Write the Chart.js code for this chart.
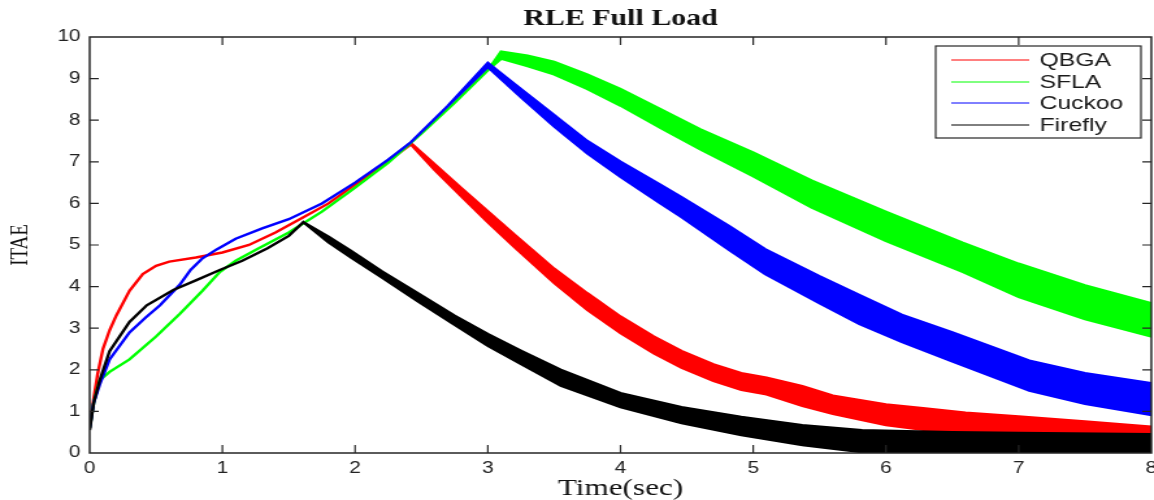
<!DOCTYPE html>
<html>
<head>
<meta charset="utf-8">
<script src="https://cdn.jsdelivr.net/npm/chart.js@4.4.1/dist/chart.umd.min.js"></script>
<style>
  html, body { margin: 0; padding: 0; background: #fff; overflow: hidden; }
  /* the original figure is stretched sideways, so draw narrow and stretch */
  #wrap { width: 888px; height: 500px; transform: scaleX(1.2995); transform-origin: 0 0; }
</style>
</head>
<body>
<div id="wrap"><canvas id="itaeChart"></canvas></div>
<script>
'use strict';
//tick labels
var xTicks = [0, 1, 2, 3, 4, 5, 6, 7, 8];
var yTicks = [0, 1, 2, 3, 4, 5, 6, 7, 8, 9, 10];

var seriesNames = ['QBGA', 'SFLA', 'Cuckoo', 'Firefly'];
var seriesColors = ['#ff0000', '#00ff00', '#0000ff', '#000000'];

//each curve oscillates after its peak, so keep the upper and lower edge of the band
//QBGA
var qbgaTime = [0, 0.03, 0.06, 0.1, 0.15, 0.2, 0.3, 0.4, 0.5, 0.6, 0.8, 1.0, 1.2, 1.4, 1.6, 1.8, 2.0, 2.2, 2.42,
  2.6, 2.8, 3.0, 3.2, 3.5, 3.75, 4.0, 4.25, 4.46, 4.7, 4.91, 5.1, 5.37, 5.6, 6.0, 6.28, 6.6, 7.0, 7.5, 8.0];
var qbgaHigh = [0.6, 1.3, 1.9, 2.5, 2.95, 3.3, 3.9, 4.3, 4.5, 4.6, 4.7, 4.82, 5.0, 5.3, 5.65, 6.0, 6.45, 6.9, 7.45,
  6.94, 6.37, 5.81, 5.25, 4.43, 3.84, 3.28, 2.8, 2.45, 2.13, 1.92, 1.81, 1.61, 1.38, 1.17, 1.08, 0.97, 0.88, 0.76, 0.63];
var qbgaLow = [0.6, 1.3, 1.9, 2.5, 2.95, 3.3, 3.9, 4.3, 4.5, 4.6, 4.7, 4.82, 5.0, 5.3, 5.65, 6.0, 6.45, 6.9, 7.42,
  6.8, 6.17, 5.55, 4.95, 4.09, 3.44, 2.88, 2.4, 2.05, 1.73, 1.52, 1.41, 1.13, 0.94, 0.67, 0.56, 0.51, 0.48, 0.44, 0.43];

//SFLA
var sflaTime = [0, 0.03, 0.076, 0.15, 0.3, 0.5, 0.68, 0.85, 0.98, 1.1, 1.26, 1.5, 1.75, 2.0, 2.25, 2.5, 2.75, 3.0, 3.1,
  3.3, 3.5, 3.75, 4.0, 4.31, 4.6, 5.0, 5.44, 6.0, 6.58, 7.0, 7.5, 8.0];
var sflaHigh = [0.6, 1.2, 1.75, 1.95, 2.25, 2.8, 3.35, 3.9, 4.35, 4.62, 4.9, 5.3, 5.8, 6.38, 6.98, 7.68, 8.42, 9.2, 9.65,
  9.55, 9.4, 9.1, 8.75, 8.25, 7.78, 7.22, 6.55, 5.8, 5.05, 4.55, 4.03, 3.6];
var sflaLow = [0.6, 1.2, 1.75, 1.95, 2.25, 2.8, 3.35, 3.9, 4.35, 4.62, 4.9, 5.3, 5.8, 6.38, 6.98, 7.68, 8.42, 9.2, 9.48,
  9.3, 9.1, 8.75, 8.35, 7.8, 7.3, 6.65, 5.9, 5.1, 4.35, 3.75, 3.22, 2.8];

//Cuckoo
var cuckooTime = [0, 0.03, 0.076, 0.15, 0.3, 0.42, 0.53, 0.68, 0.76, 0.85, 0.96, 1.1, 1.3, 1.5, 1.75, 2.0, 2.25, 2.42, 2.7, 3.0,
  3.25, 3.5, 3.75, 4.0, 4.3, 4.46, 4.82, 5.09, 5.5, 5.8, 6.12, 6.5, 7.08, 7.5, 8.0];
var cuckooHigh = [0.6, 1.2, 1.65, 2.25, 2.9, 3.25, 3.55, 4.05, 4.4, 4.68, 4.9, 5.15, 5.4, 5.62, 6.0, 6.5, 7.05, 7.47, 8.35, 9.38,
  8.75, 8.12, 7.5, 7.0, 6.45, 6.15, 5.45, 4.9, 4.25, 3.8, 3.32, 2.9, 2.22, 1.92, 1.68];
var cuckooLow = [0.6, 1.2, 1.65, 2.25, 2.9, 3.25, 3.55, 4.05, 4.4, 4.68, 4.9, 5.15, 5.4, 5.62, 6.0, 6.5, 7.05, 7.47, 8.35, 9.28,
  8.55, 7.85, 7.2, 6.64, 6.0, 5.67, 4.88, 4.3, 3.6, 3.1, 2.67, 2.2, 1.5, 1.18, 0.91];

//Firefly
var fireflyTime = [0, 0.03, 0.076, 0.15, 0.3, 0.43, 0.63, 0.8, 0.98, 1.15, 1.34, 1.5, 1.61,
  1.8, 1.97, 2.2, 2.47, 2.75, 3.0, 3.25, 3.55, 4.0, 4.46, 4.91, 5.37, 5.82, 6.5, 7.0, 8.0];
var fireflyHigh = [0.55, 1.2, 1.75, 2.45, 3.15, 3.55, 3.92, 4.15, 4.4, 4.62, 4.92, 5.22, 5.55,
  5.2, 4.86, 4.37, 3.85, 3.3, 2.86, 2.46, 2.0, 1.44, 1.1, 0.87, 0.67, 0.55, 0.5, 0.48, 0.45];
var fireflyLow = [0.55, 1.2, 1.75, 2.45, 3.15, 3.55, 3.92, 4.15, 4.4, 4.62, 4.92, 5.22, 5.55,
  5.06, 4.7, 4.22, 3.65, 3.08, 2.58, 2.14, 1.62, 1.1, 0.72, 0.43, 0.19, 0.02, 0, 0, 0];

//walk along the top edge, then back along the bottom edge
function makeBand(time, high, low){
  var pts = [];
  for(var i = 0; i < time.length; i++){
    pts.push({x: time[i], y: high[i]});
  }
  for(var j = time.length - 1; j >= 0; j--){
    pts.push({x: time[j], y: low[j]});
  }
  return pts;
}

var bands = [
  makeBand(qbgaTime, qbgaHigh, qbgaLow),
  makeBand(sflaTime, sflaHigh, sflaLow),
  makeBand(cuckooTime, cuckooHigh, cuckooLow),
  makeBand(fireflyTime, fireflyHigh, fireflyLow)
];

var datasets = [];
for(var k = 0; k < seriesNames.length; k++){
  datasets.push({
    label: seriesNames[k],
    data: bands[k],
    borderColor: seriesColors[k],
    backgroundColor: seriesColors[k],
    borderWidth: 2.4,
    fill: 'shape',
    pointRadius: 0,
    tension: 0,
    order: seriesNames.length - k   // Firefly drawn last, on top
  });
}

//MATLAB style box with the tick marks pointing inwards
var axesBox = {
  id: 'axesBox',
  afterDatasetsDraw: function(chart){
    var ctx = chart.ctx;
    var a = chart.chartArea;
    var xs = chart.scales.x;
    var ys = chart.scales.y;
    ctx.save();
    ctx.strokeStyle = '#262626';
    ctx.lineWidth = 1.5;
    ctx.strokeRect(a.left, a.top, a.right - a.left, a.bottom - a.top);
    ctx.lineWidth = 1.2;
    ctx.beginPath();
    for(var i = 1; i < xTicks.length - 1; i++){
      var px = xs.getPixelForValue(xTicks[i]);
      ctx.moveTo(px, a.bottom); ctx.lineTo(px, a.bottom - 8);
      ctx.moveTo(px, a.top); ctx.lineTo(px, a.top + 8);
    }
    for(var j = 1; j < yTicks.length - 1; j++){
      var py = ys.getPixelForValue(yTicks[j]);
      ctx.moveTo(a.left, py); ctx.lineTo(a.left + 7, py);
      ctx.moveTo(a.right, py); ctx.lineTo(a.right - 7, py);
    }
    ctx.stroke();
    ctx.restore();
  }
};

//legend box in the upper right corner of the plot
var legendBox = {
  id: 'legendBox',
  afterDraw: function(chart){
    var ctx = chart.ctx;
    var a = chart.chartArea;
    var bx = a.right - 166;
    var by = a.top + 9;
    var rows = [14, 36, 57, 79];
    ctx.save();
    ctx.fillStyle = '#ffffff';
    ctx.fillRect(bx, by, 158, 92);
    ctx.strokeStyle = '#262626';
    ctx.lineWidth = 1.2;
    ctx.strokeRect(bx, by, 158, 92);
    ctx.font = '19px "Liberation Sans", Arial, sans-serif';
    ctx.textBaseline = 'middle';
    chart.data.datasets.forEach(function(ds, i){
      var ry = by + rows[i];
      ctx.strokeStyle = ds.borderColor;
      ctx.lineWidth = 1;
      ctx.beginPath();
      ctx.moveTo(bx + 12, ry); ctx.lineTo(bx + 72, ry);
      ctx.stroke();
      ctx.fillStyle = '#1a1a1a';
      ctx.fillText(ds.label, bx + 80, ry + 1);
    });
    ctx.restore();
  }
};

var ctx = document.getElementById('itaeChart');
var myChart = new Chart(ctx, {
  type: 'line',
  data: { datasets: datasets },
  options: {
    responsive: true,
    maintainAspectRatio: false,
    animation: false,
    layout: { padding: { left: 0, right: 2, top: 0, bottom: 0 } },
    plugins: {
      legend: { display: false },
      tooltip: { enabled: false },
      title: {
        display: true,
        text: 'RLE Full Load',
        fullSize: false,
        color: '#111',
        font: { family: '"Liberation Serif", "Times New Roman", serif', size: 23, weight: 'bold', lineHeight: 1.2 },
        padding: { top: 5, bottom: 4.4 }
      }
    },
    scales: {
      x: {
        type: 'linear',
        min: 0,
        max: 8,
        afterBuildTicks: function(scale){
          scale.ticks = xTicks.map(function(v){ return {value: v}; });
        },
        afterFit: function(scale){
          scale.height = 47;
          scale.paddingLeft = 0;
          scale.paddingRight = 0;
        },
        grid: { display: false, drawTicks: false },
        border: { display: false },
        ticks: {
          padding: 6,
          color: '#222',
          maxRotation: 0,
          font: { family: '"Liberation Sans", Arial, sans-serif', size: 16 }
        },
        title: {
          display: true,
          text: 'Time(sec)',
          color: '#111',
          font: { family: '"Liberation Serif", "Times New Roman", serif', size: 24, lineHeight: 1 },
          padding: { top: 0, bottom: -1 }
        }
      },
      y: {
        type: 'linear',
        min: 0,
        max: 10,
        afterBuildTicks: function(scale){
          scale.ticks = yTicks.map(function(v){ return {value: v}; });
        },
        afterFit: function(scale){ scale.width = 69; },
        grid: { display: false, drawTicks: false },
        border: { display: false },
        ticks: {
          padding: 7,
          color: '#222',
          font: { family: '"Liberation Sans", Arial, sans-serif', size: 16 }
        },
        title: {
          display: true,
          text: 'ITAE',
          color: '#111',
          font: { family: '"Liberation Serif", "Times New Roman", serif', size: 19, lineHeight: 1 },
          padding: { top: 7, bottom: 0 }
        }
      }
    }
  },
  plugins: [axesBox, legendBox]
});
</script>
</body>
</html>
